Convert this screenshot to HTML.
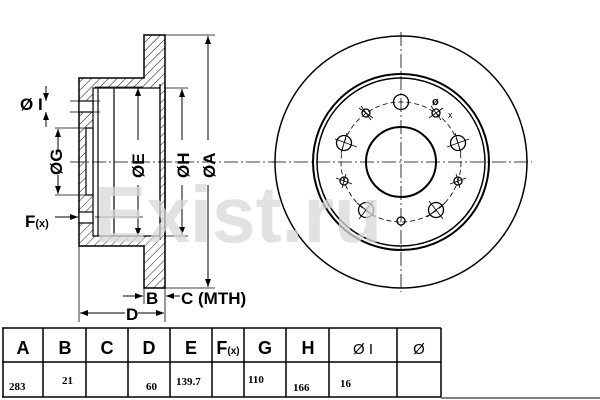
<!DOCTYPE html>
<html><head><style>
html,body{margin:0;padding:0;background:#fff;}
svg{display:block;font-family:"Liberation Sans",Arial,sans-serif;}
</style></head><body>
<svg width="600" height="400" viewBox="0 0 600 400" xmlns="http://www.w3.org/2000/svg">
<defs>
<pattern id="h" width="6" height="6" patternUnits="userSpaceOnUse" patternTransform="rotate(45)">
<line x1="0" y1="0" x2="0" y2="6" stroke="#000" stroke-width="0.9"/>
</pattern>
<marker id="a" markerWidth="8" markerHeight="6" refX="8" refY="3" orient="auto" markerUnits="userSpaceOnUse"><path d="M0,0 L8,3 L0,6z" fill="#000"/></marker>
</defs>

<!-- LEFT SECTION -->
<g stroke="#000" stroke-width="1.5" fill="url(#h)">
<path d="M144,35 H165 V288 H144 V246 H79 V78 H144 Z"/>
</g>
<g stroke="#000" stroke-width="1.2" fill="#fff">
<path d="M93,88 H160 V236 H93 Z"/>
<rect x="86" y="128" width="7" height="67"/>
<rect x="79" y="101" width="14" height="11"/>
<rect x="79" y="212" width="14" height="11"/>
</g>
<g stroke="#000" stroke-width="1.2" fill="none">
<line x1="98" y1="88" x2="98" y2="236"/>
<line x1="114" y1="88" x2="114" y2="236"/>
<line x1="160" y1="84" x2="160" y2="240"/>
<line x1="165" y1="84" x2="165" y2="240"/>
<line x1="70" y1="101" x2="100" y2="101" stroke-width="0.8"/>
<line x1="70" y1="112" x2="100" y2="112" stroke-width="0.8"/>
<line x1="55" y1="128" x2="86" y2="128" stroke-width="0.8"/>
<line x1="55" y1="195" x2="86" y2="195" stroke-width="0.8"/>
<line x1="95" y1="87" x2="143" y2="87" stroke-width="0.8"/>
<line x1="95" y1="217" x2="143" y2="217" stroke-width="0.8"/>
<line x1="165" y1="88" x2="188" y2="88" stroke-width="0.8"/>
<line x1="165" y1="236" x2="188" y2="236" stroke-width="0.8"/>
<line x1="165" y1="35" x2="215" y2="35" stroke-width="0.8"/>
<line x1="165" y1="288" x2="215" y2="288" stroke-width="0.8"/>
<line x1="79" y1="246" x2="79" y2="322" stroke-width="0.8"/>
<line x1="165" y1="288" x2="165" y2="322" stroke-width="0.8"/>
<line x1="144" y1="288" x2="144" y2="304" stroke-width="0.8"/>
<line x1="70" y1="162" x2="275" y2="162" stroke-width="0.8" stroke-dasharray="14,3,2,3"/>
</g>
<g stroke="#000" stroke-width="1" fill="none" marker-end="url(#a)">
<line x1="46" y1="86" x2="46" y2="101"/>
<line x1="46" y1="127" x2="46" y2="112"/>
<line x1="58" y1="150" x2="58" y2="129"/>
<line x1="58" y1="175" x2="58" y2="194"/>
<line x1="138" y1="140" x2="138" y2="88"/>
<line x1="138" y1="185" x2="138" y2="236"/>
<line x1="182" y1="140" x2="182" y2="89"/>
<line x1="182" y1="185" x2="182" y2="235"/>
<line x1="208" y1="140" x2="208" y2="36"/>
<line x1="208" y1="185" x2="208" y2="287"/>
<line x1="55" y1="217" x2="78" y2="217"/>
<line x1="123" y1="296" x2="143" y2="296"/>
<line x1="180" y1="296" x2="166" y2="296"/>
<line x1="125" y1="313" x2="80" y2="313"/>
<line x1="138" y1="313" x2="164" y2="313"/>
</g>
<g font-weight="bold" font-size="17" fill="#000">
<text x="20" y="110">Ø I</text>
<text x="0" y="0" transform="translate(62,175) rotate(-90)">ØG</text>
<text x="0" y="0" transform="translate(144,178) rotate(-90)">ØE</text>
<text x="0" y="0" transform="translate(189,178) rotate(-90)">ØH</text>
<text x="0" y="0" transform="translate(215,178) rotate(-90)">ØA</text>
<text x="25" y="227">F<tspan font-size="11">(x)</tspan></text>
<text x="146" y="304">B</text>
<text x="181" y="304">C (MTH)</text>
<text x="126" y="320">D</text>
</g>

<!-- RIGHT DISC -->
<g stroke="#000" fill="none">
<circle cx="401" cy="162" r="126" stroke-width="1.5"/>
<circle cx="401" cy="162" r="88" stroke-width="2"/>
<circle cx="401" cy="162" r="84" stroke-width="1.5"/>
<circle cx="401" cy="162" r="35" stroke-width="2"/>
<circle cx="401" cy="162" r="60" stroke-width="0.8" stroke-dasharray="5,3"/>
<line x1="272" y1="162" x2="532" y2="162" stroke-width="0.8" stroke-dasharray="14,3,2,3"/>
<line x1="401" y1="32" x2="401" y2="292" stroke-width="0.8" stroke-dasharray="14,3,2,3"/>
<g stroke-width="1.3">
<circle cx="401" cy="102" r="7.5"/>
<circle cx="436" cy="113" r="4"/>
<circle cx="458" cy="143" r="7.5"/>
<circle cx="458" cy="181" r="4"/>
<circle cx="436" cy="210" r="7.5"/>
<circle cx="401" cy="221" r="4"/>
<circle cx="366" cy="210" r="7.5"/>
<circle cx="344" cy="181" r="4"/>
<circle cx="344" cy="143" r="7.5"/>
<circle cx="366" cy="113" r="4"/>
</g>
<g stroke-width="0.8">
<line x1="431" y1="106" x2="441" y2="120"/><line x1="429" y1="118" x2="443" y2="108"/>
<line x1="361" y1="106" x2="371" y2="120"/><line x1="359" y1="108" x2="373" y2="118"/>
<line x1="447" y1="147" x2="469" y2="139"/><line x1="455" y1="133" x2="461" y2="153"/>
<line x1="335" y1="139" x2="357" y2="147"/><line x1="341" y1="153" x2="347" y2="133"/>
<line x1="450" y1="184" x2="466" y2="178"/><line x1="456" y1="174" x2="460" y2="188"/>
<line x1="336" y1="178" x2="352" y2="184"/><line x1="342" y1="188" x2="346" y2="174"/>
<line x1="429" y1="201" x2="443" y2="219"/><line x1="445" y1="203" x2="427" y2="217"/>
<line x1="373" y1="201" x2="359" y2="219"/><line x1="357" y1="203" x2="375" y2="217"/>
</g>
</g>
<text x="432" y="105" font-size="11" font-weight="bold">ø</text>
<text x="448" y="118" font-size="9">x</text>

<!-- watermark on top -->
<text x="94" y="242" font-size="80" font-weight="bold" fill="#d8d8d8" fill-opacity="0.75" textLength="288" lengthAdjust="spacingAndGlyphs">Exist.ru</text>

<!-- TABLE -->
<g stroke="#000" stroke-width="1.5" fill="none">
<line x1="2" y1="328" x2="441" y2="328"/>
<line x1="2" y1="362" x2="441" y2="362"/>
<line x1="2" y1="397" x2="441" y2="397"/>
<line x1="3" y1="328" x2="3" y2="397"/>
<line x1="43" y1="328" x2="43" y2="397"/>
<line x1="86" y1="328" x2="86" y2="397"/>
<line x1="128" y1="328" x2="128" y2="397"/>
<line x1="170" y1="328" x2="170" y2="397"/>
<line x1="212" y1="328" x2="212" y2="397"/>
<line x1="244" y1="328" x2="244" y2="397"/>
<line x1="286" y1="328" x2="286" y2="397"/>
<line x1="329" y1="328" x2="329" y2="397"/>
<line x1="397" y1="328" x2="397" y2="397"/>
<line x1="441" y1="328" x2="441" y2="397"/>
<line x1="441" y1="398" x2="600" y2="398" stroke-width="1"/>
</g>
<g font-weight="bold" font-size="18" text-anchor="middle">
<text x="23" y="354">A</text>
<text x="65" y="354">B</text>
<text x="107" y="354">C</text>
<text x="149" y="354">D</text>
<text x="191" y="354">E</text>
<text x="228" y="354">F<tspan font-size="10">(x)</tspan></text>
<text x="265" y="354">G</text>
<text x="308" y="354">H</text>
<text x="363" y="354" font-weight="normal" font-size="15">Ø I</text>
<text x="419" y="354" font-weight="normal" font-size="15">Ø</text>
</g>
<g font-family="'Liberation Serif',serif" font-weight="bold" font-size="11">
<text x="9" y="390">283</text>
<text x="62" y="384">21</text>
<text x="146" y="390">60</text>
<text x="176" y="385">139.7</text>
<text x="248" y="383">110</text>
<text x="293" y="391">166</text>
<text x="340" y="387">16</text>
</g>
</svg>
</body></html>
